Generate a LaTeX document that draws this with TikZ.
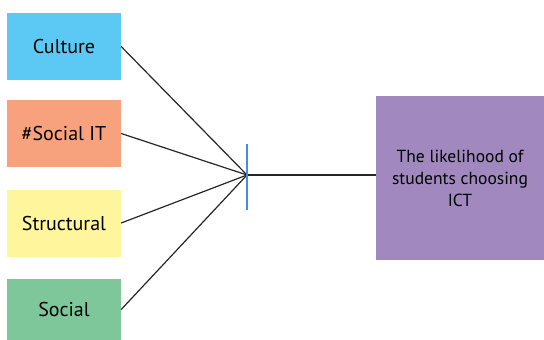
\documentclass[tikz,border=0pt]{standalone}
\usepackage{fontspec}
\setmainfont{PT Sans}
\definecolor{cultureblue}{HTML}{5CC9F4}
\definecolor{socialitorange}{HTML}{F7A27C}
\definecolor{structyellow}{HTML}{FFF59C}
\definecolor{socialgreen}{HTML}{7DC79B}
\definecolor{ictpurple}{HTML}{A189C0}
\definecolor{barblue}{HTML}{3F8FE8}
\begin{document}
\begin{tikzpicture}[
  x=1pt, y=-1pt,
  factor/.style={rectangle, inner sep=0pt, minimum width=114pt, minimum height=67pt, font=\fontsize{20}{22}\selectfont},
  outcome/.style={rectangle, inner sep=0pt, minimum width=168pt, minimum height=164pt, align=center, font=\fontsize{17.5}{22}\selectfont},
  link/.style={draw=black!85, line width=1.2pt}
]
  \useasboundingbox (0,0) rectangle (544,340);

  % Faktoren links
  \node[factor, fill=cultureblue] (culture) at (64,46.5) {Culture};
  \node[factor, fill=socialitorange] (socialit) at (64,133.5) {\#Social IT};
  \node[factor, fill=structyellow] (structural) at (64,223) {Structural};
  \node[factor, fill=socialgreen, minimum height=61pt] (social) at (64,309.5) {Social};

  % Ergebnis rechts
  \node[outcome, fill=ictpurple] (ict) at (460,178) {The likelihood of\\students choosing\\ICT};

  % Knotenpunkt
  \coordinate (join) at (247,175);
  \coordinate (bartop) at (247,144);
  \coordinate (barbot) at (247,210);

  % Verbindungen
  \draw[link] (culture.east) -- (join);
  \draw[link] (socialit.east) -- (join);
  \draw[link] (structural.east) -- (join);
  \draw[link] (social.east) -- (join);
  \draw[link] (join) -- (ict.west |- join);
  \draw[barblue, line width=1.2pt] (bartop) -- (barbot);
\end{tikzpicture}
\end{document}
